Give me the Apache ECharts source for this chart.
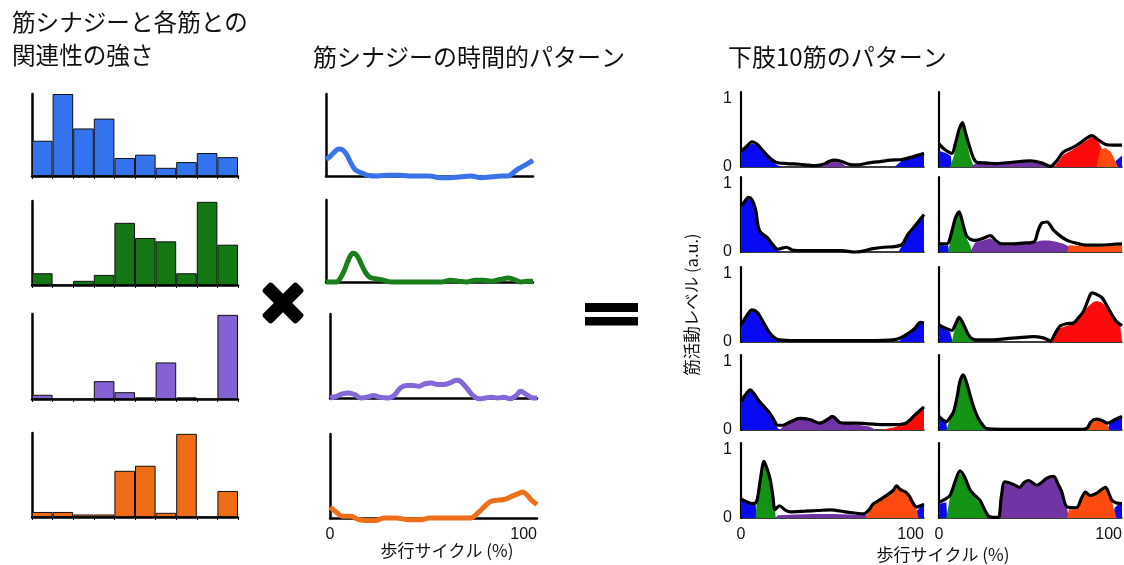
<!DOCTYPE html>
<html><head><meta charset="utf-8">
<script src="https://cdn.jsdelivr.net/npm/echarts@6/dist/echarts.min.js"></script>
<style>html,body{margin:0;padding:0;background:#fff}#c{width:1124px;height:565px}</style>
</head><body><div id="c"></div>
<script>
// ---------- Data ----------
const muscleIds = ['1','2','3','4','5','6','7','8','9','10'];
// weights of each synergy for the 10 muscles (left bar charts)
const weightBlue   = [0.43, 1.00, 0.58, 0.70, 0.22, 0.26, 0.10, 0.17, 0.28, 0.23];
const weightGreen  = [0.14, 0.00, 0.05, 0.12, 0.74, 0.56, 0.52, 0.14, 0.99, 0.48];
const weightPurple = [0.05, 0.00, 0.00, 0.21, 0.08, 0.02, 0.43, 0.02, 0.00, 0.99];
const weightOrange = [0.06, 0.06, 0.03, 0.03, 0.55, 0.61, 0.05, 0.99, 0.00, 0.31];

// temporal patterns of synergies: [gait cycle %, activation]
const patternBlue = [[0,0.20],[2,0.24],[4,0.29],[6,0.33],[8,0.32],[10,0.26],[12,0.16],[14,0.08],[16,0.05],[18,0.03],[20,0.01],[25,0.0],[30,0.01],[35,0.01],[40,0.0],[45,0.0],[50,0.0],[55,-0.02],[60,-0.02],[65,-0.01],[70,0.0],[75,-0.02],[80,-0.01],[85,0.0],[88,0.0],[90,0.03],[93,0.09],[96,0.13],[100,0.19]];
const patternGreen = [[0,0],[5,0.0],[7,0.05],[9,0.15],[11,0.28],[13,0.35],[15,0.32],[17,0.22],[19,0.12],[21,0.06],[24,0.04],[28,0.02],[32,0.0],[40,0.0],[50,0.0],[56,0.0],[60,0.02],[64,0.01],[68,0.0],[72,0.02],[76,0.02],[80,0.01],[84,0.03],[88,0.05],[91,0.03],[94,0.0],[97,0.01],[100,0.01]];
const patternPurple = [[0,0.0],[3,0.02],[6,0.05],[9,0.06],[12,0.04],[15,0.0],[18,0.01],[21,0.03],[24,0.01],[28,0.0],[31,0.03],[34,0.12],[37,0.15],[40,0.15],[43,0.14],[46,0.17],[49,0.18],[52,0.16],[55,0.16],[58,0.18],[61,0.21],[63,0.20],[66,0.12],[69,0.03],[72,-0.01],[75,0.0],[78,0.01],[81,0.0],[84,0.01],[87,-0.01],[90,0.03],[92,0.08],[95,0.04],[98,0.0],[100,0.0]];
const patternOrange = [[0,0.13],[3,0.07],[6,0.02],[10,0.02],[14,-0.02],[18,-0.03],[22,-0.03],[26,0.0],[32,0.0],[38,-0.02],[44,-0.02],[48,0.0],[55,0.0],[62,0.0],[68,0.0],[71,0.05],[74,0.12],[77,0.19],[80,0.21],[84,0.22],[88,0.26],[91,0.29],[93,0.31],[95,0.28],[97,0.22],[100,0.16]];

// tick labels
const cycleTicks = [0, 100];
const levelTicks = [0, 1];

// 10 muscle patterns: total (black line) and synergy contributions (filled)
const mus1Total  = [[0,0.23],[3,0.30],[6,0.37],[9,0.33],[12,0.24],[15,0.15],[19,0.07],[25,0.05],[32,0.04],[40,0.02],[45,0.04],[48,0.08],[51,0.10],[55,0.08],[59,0.04],[63,0.03],[70,0.06],[76,0.08],[82,0.10],[88,0.11],[94,0.15],[100,0.20]];
const mus1Blue   = [[0,0.22],[3,0.29],[6,0.35],[9,0.31],[12,0.22],[15,0.13],[19,0.04],[22,0],[84,0],[88,0.10],[94,0.14],[100,0.19]];
const mus1Purple = [[44,0],[48,0.06],[51,0.08],[55,0.06],[58,0]];

const mus2Total  = [[0,0.68],[2,0.74],[4,0.80],[6,0.77],[8,0.62],[9.5,0.36],[11,0.28],[14,0.22],[17,0.12],[20,0.04],[23,0.06],[25,0.07],[28,0.03],[35,0.02],[45,0.02],[55,0.02],[62,0.0],[66,0.01],[72,0.05],[78,0.07],[84,0.08],[88,0.11],[91,0.25],[95,0.38],[100,0.55]];
const mus2Blue   = [[0,0.66],[2,0.72],[4,0.78],[6,0.75],[8,0.60],[9.5,0.34],[11,0.26],[14,0.20],[17,0.10],[20,0.02],[22,0],[86,0],[88,0.09],[91,0.24],[95,0.37],[100,0.54]];

const mus3Total  = [[0,0.25],[3,0.38],[6,0.47],[9,0.43],[12,0.30],[15,0.16],[18,0.07],[21,0.03],[30,0.02],[50,0.02],[70,0.02],[83,0.03],[87,0.06],[91,0.12],[95,0.20],[98,0.29],[100,0.28]];
const mus3Blue   = [[0,0.24],[3,0.37],[6,0.46],[9,0.42],[12,0.29],[15,0.15],[18,0.06],[21,0.01],[22,0],[86,0],[88,0.05],[91,0.11],[95,0.19],[98,0.28],[100,0.27]];

const mus4Total  = [[0,0.42],[2.5,0.52],[5,0.59],[7.5,0.52],[10,0.42],[15,0.27],[18,0.15],[20,0.07],[23,0.07],[27,0.12],[32,0.17],[38,0.15],[43,0.10],[47,0.15],[50,0.20],[54,0.11],[58,0.10],[63,0.10],[70,0.09],[76,0.08],[84,0.08],[90,0.10],[95,0.22],[100,0.34]];
const mus4Blue   = [[0,0.41],[2.5,0.51],[5,0.58],[7.5,0.51],[10,0.41],[15,0.26],[18,0.12],[20,0.03],[21,0]];
const mus4Purple = [[21,0],[23,0.05],[27,0.11],[32,0.16],[38,0.14],[43,0.09],[47,0.14],[50,0.19],[54,0.10],[58,0.09],[63,0.08],[70,0.05],[74,0]];
const mus4Red    = [[76,0],[84,0.04],[90,0.09],[95,0.21],[100,0.33]];

const mus5Total  = [[0,0.28],[3,0.24],[6,0.21],[8.5,0.24],[10.5,0.55],[12.6,0.83],[14.5,0.70],[16,0.56],[17.5,0.30],[18.6,0.12],[21,0.18],[24,0.12],[27,0.09],[35,0.10],[42,0.11],[49,0.12],[57,0.09],[67,0.06],[70,0.12],[72,0.20],[76,0.27],[80,0.34],[83,0.40],[85,0.47],[87,0.42],[90,0.38],[92,0.32],[94,0.22],[96,0.16],[98,0.18],[100,0.20]];
const mus5Blue   = [[0,0.26],[3,0.22],[6,0.19],[8,0.20],[8.5,0],[95,0],[96,0.10],[98,0.16],[100,0.19]];
const mus5Green  = [[8,0],[8.5,0.22],[10.5,0.53],[12.6,0.80],[14.5,0.68],[16,0.53],[17.5,0.28],[18.6,0.10],[19,0]];
const mus5Purple = [[19,0],[20,0.04],[30,0.05],[40,0.06],[50,0.06],[60,0.05],[70,0.04],[76,0]];
const mus5Red    = [[68,0],[70,0.10],[72,0.18],[76,0.25],[80,0.32],[83,0.38],[85,0.44],[87,0.40],[90,0.36],[92,0.30],[94,0.20],[96,0.12],[97,0]];

const mus6Total  = [[0,0.34],[3,0.26],[7,0.20],[9,0.35],[11,0.55],[12.8,0.65],[14.5,0.50],[17,0.27],[19,0.12],[20.6,0.07],[25,0.06],[31.5,0.05],[40,0.07],[50,0.09],[56,0.06],[61,0.01],[64,0.08],[68,0.22],[73.5,0.29],[78,0.37],[83.6,0.46],[87,0.40],[91,0.33],[95,0.32],[100,0.32]];
const mus6Blue   = [[0,0.24],[4,0.20],[6.5,0.16],[7,0],[94,0],[97,0.10],[100,0.17]];
const mus6Green  = [[6,0],[8,0.15],[10,0.40],[12.8,0.62],[14.5,0.45],[17,0.15],[19,0]];
const mus6Purple = [[17,0],[20,0.05],[30,0.04],[40,0.06],[50,0.07],[56,0.05],[61,0]];
const mus6Red    = [[63,0],[68,0.18],[73.5,0.26],[78,0.34],[83.6,0.44],[87,0.38],[90,0.20],[92,0]];
const mus6Orange = [[86,0],[88,0.25],[91,0.28],[94,0.22],[97,0.05],[98,0]];

const mus7Total  = [[0,0.12],[3,0.12],[5,0.13],[7,0.30],[9,0.50],[11,0.59],[13,0.42],[15,0.24],[17,0.19],[19.7,0.17],[24,0.20],[28,0.24],[31,0.17],[34,0.12],[40,0.12],[46,0.13],[52,0.15],[54,0.30],[56,0.42],[59,0.44],[62.6,0.32],[66,0.24],[70,0.17],[75,0.13],[81,0.10],[88,0.10],[94,0.11],[100,0.12]];
const mus7Blue   = [[0,0.10],[3,0.10],[5,0.10],[5.5,0]];
const mus7Green  = [[5,0],[7,0.28],[9,0.48],[11,0.57],[13,0.40],[15,0.20],[17,0.10],[18,0]];
const mus7Purple = [[17,0],[19.7,0.14],[24,0.17],[28,0.20],[31,0.14],[34,0.10],[40,0.10],[46,0.12],[52,0.14],[56,0.17],[60,0.17],[64,0.15],[68,0.12],[71,0.08],[72,0]];
const mus7Orange = [[70,0],[71,0.10],[81,0.08],[88,0.08],[94,0.09],[100,0.10]];

const mus8Total  = [[0,0.25],[3,0.21],[7,0.17],[9,0.26],[11,0.36],[13.5,0.25],[16,0.11],[18,0.05],[20.6,0.03],[30,0.03],[37,0.05],[42.5,0.06],[51.6,0.08],[57,0.06],[61,0.02],[63,0.10],[66,0.23],[70,0.27],[73.5,0.28],[76,0.35],[79,0.45],[81.5,0.62],[83.6,0.72],[86,0.70],[89,0.65],[92,0.52],[94.5,0.40],[97,0.30],[100,0.24]];
const mus8Blue   = [[0,0.23],[3,0.19],[6,0.15],[7,0.14],[7.5,0]];
const mus8Green  = [[7,0],[9,0.24],[11,0.34],[13.5,0.23],[16,0.09],[18,0.03],[19,0]];
const mus8Red    = [[61,0],[63,0.08],[66,0.20],[70,0.24],[73.5,0.26],[76,0.33],[79,0.42],[81.5,0.52],[84,0.58],[86,0.60],[89,0.58],[92,0.50],[94.5,0.40],[97,0.30],[99,0.24],[100,0.23]];

const mus9Total  = [[0,0.20],[2,0.15],[4,0.12],[6,0.18],[8,0.27],[10,0.50],[11.5,0.72],[13.3,0.81],[15,0.70],[17,0.51],[19,0.33],[21.5,0.17],[24,0.07],[26,0.02],[35,0.01],[50,0.01],[65,0.01],[78,0.01],[81,0.03],[83,0.12],[86,0.16],[89,0.14],[92,0.10],[96,0.15],[100,0.20]];
const mus9Blue   = [[0,0.18],[2,0.13],[4,0.10],[4.5,0],[92,0],[93,0.08],[96,0.14],[100,0.19]];
const mus9Green  = [[4,0],[6,0.16],[8,0.25],[10,0.48],[11.5,0.70],[13.3,0.79],[15,0.68],[17,0.49],[19,0.31],[21.5,0.15],[24,0.05],[26,0]];
const mus9Orange = [[80,0],[83,0.10],[86,0.14],[89,0.12],[92,0.08],[93,0]];

const mus10Total  = [[0,0.23],[3,0.27],[6,0.33],[9,0.55],[11.5,0.69],[14,0.60],[17,0.41],[20,0.32],[22.4,0.26],[25,0.12],[27,0.03],[30,0.01],[32.5,0.01],[34,0.30],[36,0.53],[40,0.50],[44,0.45],[46.5,0.52],[49,0.55],[53.5,0.48],[56,0.52],[58.6,0.58],[62.6,0.61],[65,0.50],[67,0.39],[70,0.16],[75,0.15],[78,0.30],[80,0.38],[82.7,0.33],[86,0.36],[89,0.42],[91,0.45],[93,0.35],[94.5,0.26],[97,0.22],[100,0.21]];
const mus10Blue   = [[0,0.20],[2,0.22],[4,0.23],[4.5,0],[95,0],[96,0.15],[98,0.20],[100,0.20]];
const mus10Green  = [[4,0],[6,0.30],[9,0.52],[11.5,0.66],[14,0.57],[17,0.38],[20,0.29],[22.4,0.22],[25,0.10],[27,0.02],[28,0]];
const mus10Purple = [[32.5,0],[34,0.28],[36,0.51],[40,0.48],[44,0.43],[46.5,0.50],[49,0.53],[53.5,0.46],[56,0.50],[58.6,0.56],[62.6,0.59],[65,0.48],[67,0.37],[70,0.14],[71,0]];
const mus10Orange = [[70,0],[71,0.13],[75,0.13],[78,0.28],[80,0.36],[82.7,0.31],[86,0.34],[89,0.40],[91,0.43],[93,0.33],[94.5,0.24],[96,0.10],[97,0]];

// ---------- Chart ----------
const FONT = '"Noto Sans CJK JP", "Noto Sans", sans-serif';
const NUMFONT = '"Liberation Sans", Arial, sans-serif';
const C = {
  barBlue:'#3374EE', barGreen:'#137813', barPurple:'#8462D6', barOrange:'#EE6C15',
  lnBlue:'#3A72EA', lnGreen:'#1A7F1A', lnPurple:'#8467D8', lnOrange:'#EE6E1A',
  fBlue:'#0A0AF2', fGreen:'#149414', fPurple:'#7234A4', fRed:'#FF0A0A', fOrange:'#FF4A10'
};
const grids = [], xAxes = [], yAxes = [], series = [];
function addGrid(r){
  grids.push({left:r[0], top:r[1], width:r[2], height:r[3], containLabel:false, outerBoundsMode:'none'});
  return grids.length - 1;
}
const blackLine = w => ({show:true, onZero:false, lineStyle:{color:'#000', width:w}});

function barPanel(r, data, color){
  const g = addGrid(r);
  xAxes.push({gridIndex:g, type:'category', data:muscleIds, boundaryGap:true,
    axisLine:blackLine(2.5), axisTick:{show:true, length:3, lineStyle:{color:'#000', width:1}}, axisLabel:{show:false}});
  yAxes.push({gridIndex:g, type:'value', min:0, max:1, axisLine:blackLine(2.5),
    axisTick:{show:false}, axisLabel:{show:false}, splitLine:{show:false}});
  series.push({type:'bar', xAxisIndex:g, yAxisIndex:g, data, barCategoryGap:'0%',
    itemStyle:{color, borderColor:'#111', borderWidth:1}, silent:true});
}
function cycleLabel(show){
  return {show, fontSize:16, fontFamily:NUMFONT, color:'#111', margin:9,
    alignMaxLabel:'right', formatter:v => cycleTicks.includes(v) ? String(v) : ''};
}
function patternPanel(r, data, color, showX){
  const g = addGrid(r);
  xAxes.push({gridIndex:g, type:'value', min:0, max:100, interval:100, axisLine:blackLine(2.5),
    axisTick:{show:false}, splitLine:{show:false}, axisLabel:cycleLabel(showX)});
  yAxes.push({gridIndex:g, type:'value', min:0, max:1, axisLine:blackLine(2.5),
    axisTick:{show:false}, axisLabel:{show:false}, splitLine:{show:false}});
  series.push({type:'line', xAxisIndex:g, yAxisIndex:g, data, showSymbol:false, smooth:0.35, clip:false,
    lineStyle:{color, width:5}, silent:true});
}
function musclePanel(r, total, comps, showY, showX, yName){
  const g = addGrid(r);
  xAxes.push({gridIndex:g, type:'value', min:0, max:100, interval:100, axisLine:blackLine(1.5),
    axisTick:{show:false}, splitLine:{show:false}, axisLabel:cycleLabel(showX)});
  const ya = {gridIndex:g, type:'value', min:0, max:1.1, interval:1, axisLine:blackLine(2.2),
    axisTick:{show:false}, splitLine:{show:false},
    axisLabel:{show:showY, fontSize:16, fontFamily:NUMFONT, color:'#111', margin:9, padding:[0,0,6,0],
      formatter:v => levelTicks.includes(v) ? String(v) : ''}};
  if (yName){
    Object.assign(ya, {name:yName, nameLocation:'middle', nameRotate:90, nameGap:41,
      nameTextStyle:{fontSize:16.5, fontFamily:FONT, color:'#111'}});
  }
  yAxes.push(ya);
  comps.forEach(([d, color]) => series.push({type:'line', xAxisIndex:g, yAxisIndex:g, data:d, showSymbol:false,
    lineStyle:{width:0, opacity:0}, areaStyle:{color, opacity:1}, z:2, silent:true}));
  series.push({type:'line', xAxisIndex:g, yAxisIndex:g, data:total, showSymbol:false, smooth:0.3, clip:false,
    lineStyle:{color:'#000', width:3.2}, z:3, silent:true});
}

// left: weights
barPanel([32, 94, 206, 82], weightBlue, C.barBlue);
barPanel([32, 201, 206, 84], weightGreen, C.barGreen);
barPanel([32, 314, 206, 85], weightPurple, C.barPurple);
barPanel([32, 433, 206, 84], weightOrange, C.barOrange);
// middle: temporal patterns
patternPanel([326, 94, 207, 82], patternBlue, C.lnBlue, false);
patternPanel([326, 200, 207, 82], patternGreen, C.lnGreen, false);
patternPanel([330, 314, 207, 84], patternPurple, C.lnPurple, false);
patternPanel([330, 434, 207, 84], patternOrange, C.lnOrange, true);
// right: 10 muscles
const rowTops = [92, 177, 267, 355, 443];
const H = 75;
musclePanel([741, rowTops[0], 183, H], mus1Total, [[mus1Blue,C.fBlue],[mus1Purple,C.fPurple]], true, false);
musclePanel([741, rowTops[1], 183, H], mus2Total, [[mus2Blue,C.fBlue]], true, false);
musclePanel([741, rowTops[2], 183, H], mus3Total, [[mus3Blue,C.fBlue]], true, false, '筋活動レベル (a.u.)');
musclePanel([741, rowTops[3], 183, H], mus4Total, [[mus4Blue,C.fBlue],[mus4Purple,C.fPurple],[mus4Red,C.fRed]], true, false);
musclePanel([741, rowTops[4], 183, H], mus5Total, [[mus5Purple,C.fPurple],[mus5Blue,C.fBlue],[mus5Green,C.fGreen],[mus5Red,C.fOrange]], true, true);
musclePanel([939, rowTops[0], 183, H], mus6Total, [[mus6Blue,C.fBlue],[mus6Green,C.fGreen],[mus6Purple,C.fPurple],[mus6Red,C.fRed],[mus6Orange,C.fOrange]], false, false);
musclePanel([939, rowTops[1], 183, H], mus7Total, [[mus7Blue,C.fBlue],[mus7Green,C.fGreen],[mus7Purple,C.fPurple],[mus7Orange,C.fOrange]], false, false);
musclePanel([939, rowTops[2], 183, H], mus8Total, [[mus8Blue,C.fBlue],[mus8Green,C.fGreen],[mus8Red,C.fRed]], false, false);
musclePanel([939, rowTops[3], 183, H], mus9Total, [[mus9Blue,C.fBlue],[mus9Green,C.fGreen],[mus9Orange,C.fOrange]], false, false);
musclePanel([939, rowTops[4], 183, H], mus10Total, [[mus10Blue,C.fBlue],[mus10Green,C.fGreen],[mus10Purple,C.fPurple],[mus10Orange,C.fOrange]], false, true);

function txt(text, x, y, size, align){
  return {type:'text', x, y, silent:true, style:{text, fontSize:size, fontFamily:FONT, fill:'#111',
    align:align||'left', verticalAlign:'middle'}};
}
const graphic = [
  txt('筋シナジーと各筋との', 12, 22, 23.6),
  txt('関連性の強さ', 12, 55, 23.6),
  txt('筋シナジーの時間的パターン', 313, 57, 24),
  txt('下肢10筋のパターン', 728, 57, 24),
  txt('歩行サイクル (%)', 447, 551, 17, 'center'),
  txt('歩行サイクル (%)', 943, 555, 17, 'center'),
  {type:'rect', x:283, y:303, rotation:Math.PI/4, silent:true, shape:{x:-24, y:-6.5, width:48, height:13, r:3}, style:{fill:'#000'}},
  {type:'rect', x:283, y:303, rotation:-Math.PI/4, silent:true, shape:{x:-24, y:-6.5, width:48, height:13, r:3}, style:{fill:'#000'}},
  {type:'rect', silent:true, shape:{x:585, y:303, width:53, height:9}, style:{fill:'#000'}},
  {type:'rect', silent:true, shape:{x:585, y:317, width:53, height:8.5}, style:{fill:'#000'}}
];

const chart = echarts.init(document.getElementById('c'), null, {renderer:'canvas'});
chart.setOption({
  animation:false, backgroundColor:'#fff',
  grid:grids, xAxis:xAxes, yAxis:yAxes, series, graphic
});
</script></body></html>
